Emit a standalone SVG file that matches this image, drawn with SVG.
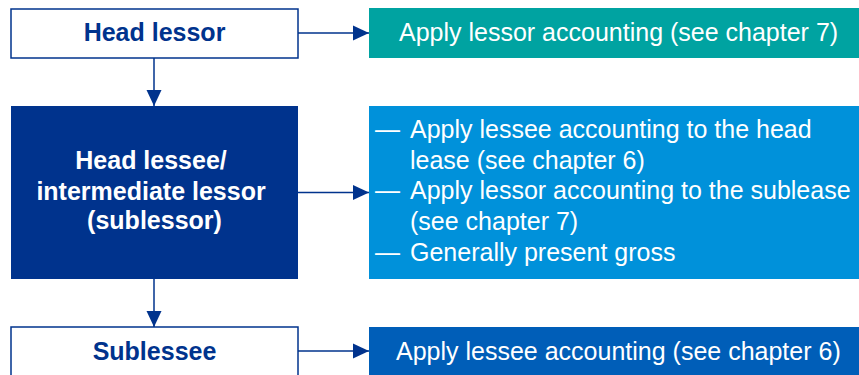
<svg xmlns="http://www.w3.org/2000/svg" width="859" height="375" viewBox="0 0 859 375">
<style>
.lbl{font-family:"Liberation Sans",Arial,sans-serif;font-size:25px}
.b{font-weight:bold}
.nv{fill:#00338D}
.wt{fill:#ffffff}
.out{fill:#ffffff;stroke:#00338D;stroke-width:1.5}
.con{stroke:#00338D;stroke-width:1.5;fill:none}
</style>
<defs>
<marker id="ah" markerUnits="userSpaceOnUse" markerWidth="16" markerHeight="16" refX="16" refY="8" orient="auto">
<path d="M0,0.5 L16,8 L0,15.5 Z" fill="#00338D"/>
</marker>
</defs>
<g id="head-lessor">
<rect class="out" x="11" y="9" width="287" height="49"/>
<text class="lbl b nv" x="154.5" y="41" text-anchor="middle">Head lessor</text>
</g>
<g id="lessor-accounting">
<rect x="369" y="8" width="490" height="50" fill="#00A3A1"/>
<text class="lbl wt" x="399" y="41">Apply lessor accounting (see chapter 7)</text>
</g>
<g id="head-lessee">
<rect x="11" y="106" width="287" height="173" fill="#00338D"/>
<text class="lbl b wt" text-anchor="middle">
<tspan x="154.5" y="169">Head lessee/</tspan>
<tspan x="154.5" y="200">intermediate lessor</tspan>
<tspan x="154.5" y="229">(sublessor)</tspan>
</text>
</g>
<g id="intermediate-accounting">
<rect x="369" y="106" width="490" height="173" fill="#0091DA"/>
<text class="lbl wt">
<tspan x="375" y="137.5">—</tspan>
<tspan x="410" y="137.5">Apply lessee accounting to the head</tspan>
<tspan x="410" y="168.5">lease (see chapter 6)</tspan>
<tspan x="375" y="199">—</tspan>
<tspan x="410" y="199">Apply lessor accounting to the sublease</tspan>
<tspan x="410" y="230">(see chapter 7)</tspan>
<tspan x="375" y="261">—</tspan>
<tspan x="410" y="261">Generally present gross</tspan>
</text>
</g>
<g id="sublessee">
<rect class="out" x="11" y="327" width="287" height="60"/>
<text class="lbl b nv" x="154.5" y="360" text-anchor="middle">Sublessee</text>
</g>
<g id="lessee-accounting">
<rect x="369" y="327" width="490" height="60" fill="#005EB8"/>
<text class="lbl wt" x="396" y="359.5">Apply lessee accounting (see chapter 6)</text>
</g>
<g id="connectors">
<line class="con" x1="298" y1="33" x2="369" y2="33" marker-end="url(#ah)"/>
<line class="con" x1="154" y1="58" x2="154" y2="106" marker-end="url(#ah)"/>
<line class="con" x1="298" y1="192.5" x2="369" y2="192.5" marker-end="url(#ah)"/>
<line class="con" x1="154" y1="279" x2="154" y2="327" marker-end="url(#ah)"/>
<line class="con" x1="298" y1="351" x2="369" y2="351" marker-end="url(#ah)"/>
</g>
</svg>
